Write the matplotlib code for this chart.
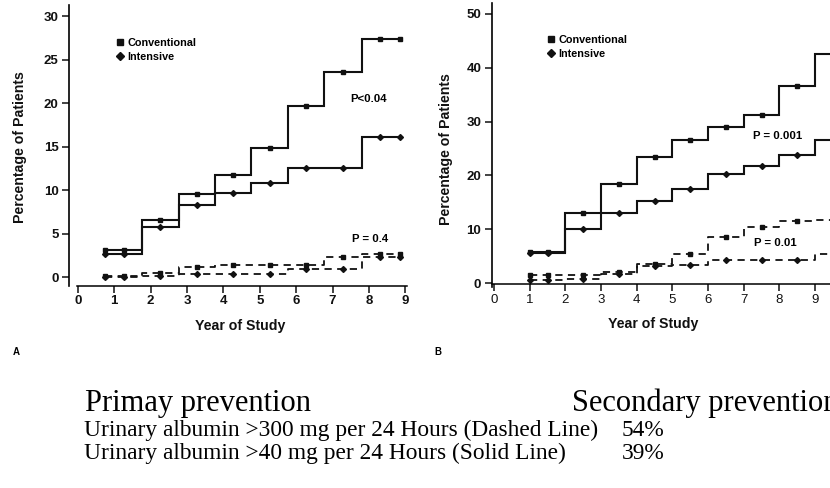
import numpy as np
import matplotlib
matplotlib.use("Agg")
import matplotlib.pyplot as plt
from matplotlib.lines import Line2D

plt.rcParams['font.family'] = ['Liberation Sans', 'DejaVu Sans']

# ---------------- Panel A (primary prevention) ----------------
a_edges = [0.75, 1.77, 2.77, 3.77, 4.77, 5.77, 6.77, 7.8, 8.85]
a_marks = [0.75, 1.27, 2.27, 3.27, 4.27, 5.27, 6.27, 7.29, 8.3, 8.85]
a_conv_solid = [3.1, 6.5, 9.5, 11.7, 14.8, 19.6, 23.6, 27.4]
a_int_solid = [2.6, 5.7, 8.3, 9.6, 10.8, 12.5, 12.5, 16.1]
a_conv_dash = [0.1, 0.5, 1.1, 1.4, 1.4, 1.4, 2.3, 2.6]
a_int_dash = [0.0, 0.1, 0.3, 0.4, 0.4, 0.9, 0.9, 2.3]
a_yticks = [0, 5, 10, 15, 20, 25, 30]

# ---------------- Panel B (secondary prevention) ----------------
b_edges = [1, 2, 3, 4, 5, 6, 7, 8, 9, 9.6]
b_marks = [1.0, 1.5, 2.5, 3.5, 4.5, 5.5, 6.5, 7.5, 8.5, 9.5]
b_conv_solid = [5.9, 13.0, 18.4, 23.5, 26.6, 28.9, 31.2, 36.5, 42.6]
b_int_solid = [5.6, 10.1, 13.0, 15.2, 17.5, 20.3, 21.7, 23.8, 26.6]
b_conv_dash = [1.5, 1.6, 2.2, 3.6, 5.5, 8.6, 10.4, 11.6, 11.7]
b_int_dash = [0.7, 0.9, 1.7, 3.3, 3.4, 4.3, 4.3, 4.3, 5.4]
b_yticks = [0, 10, 20, 30, 40, 50]

x_ticks = list(range(10))
legend_labels = ["Conventional", "Intensive"]

fig = plt.figure(figsize=(8.3, 4.88), dpi=100)
W, H = 830.0, 488.0
INK = '#111111'

def step_series(ax, edges, vals, marks, marker, ls, lw, ms):
    e = np.asarray(edges, float)
    v = np.asarray(vals, float)
    ax.step(e, np.append(v, v[-1]), where='post', color=INK, lw=lw,
            ls=ls, solid_joinstyle='miter')
    idx = np.clip(np.searchsorted(e, marks, side='right') - 1, 0, len(v) - 1)
    ax.plot(marks, v[idx], ls='none', marker=marker, ms=ms, color=INK, mec=INK)

def style_axes(ax, yticks):
    for s in ['top', 'right']:
        ax.spines[s].set_visible(False)
    ax.spines['left'].set_linewidth(1.2)
    ax.spines['bottom'].set_linewidth(1.1)
    ax.set_xticks(x_ticks)
    ax.set_yticks(yticks)
    ax.tick_params(axis='both', direction='out', length=5, width=1.1,
                   labelsize=9.5, colors=INK)
    ax.tick_params(axis='y', pad=2.5)
    ax.tick_params(axis='x', pad=2.0)
    for lab in ax.get_xticklabels() + ax.get_yticklabels():
        lab.set_fontweight('bold')
    ax.set_xlabel("Year of Study", fontsize=10.2, fontweight='bold', color=INK)
    ax.set_ylabel("Percentage of Patients", fontsize=10.2, fontweight='bold', color=INK)

# ---- Axes A
axA = fig.add_axes([69 / W, (H - 285.7) / H, (409 - 69) / W, (285.7 - 4.7) / H])
axA.set_xlim(-0.24, 9.1)
axA.set_ylim(-1.0, 31.3)
style_axes(axA, a_yticks)
axA.spines['bottom'].set_bounds(-0.03, 9.05)
step_series(axA, a_edges, a_conv_solid, a_marks, 's', '-', 1.5, 3.2)
step_series(axA, a_edges, a_int_solid, a_marks, 'D', '-', 1.5, 3.0)
step_series(axA, a_edges, a_conv_dash, a_marks, 's', (0, (4, 3)), 1.3, 3.0)
step_series(axA, a_edges, a_int_dash, a_marks, 'D', (0, (4, 3)), 1.3, 3.0)
axA.text(7.48, 20.46, "P<0.04", fontsize=8.2, fontweight='bold', va='center', ha='left')
axA.text(7.53, 4.37, "P = 0.4", fontsize=8.2, fontweight='bold', va='center', ha='left')
axA.xaxis.set_label_coords(0.503, -0.117)
axA.yaxis.set_label_coords(-0.124, 0.492)

# ---- Axes B (extends to the right edge, cropped)
axB = fig.add_axes([491.7 / W, (H - 286.7) / H, (830 - 491.7) / W, 283.4 / H])
axB.set_xlim(-0.065, 9.42)
axB.set_ylim(-0.6, 51.9)
style_axes(axB, b_yticks)
axB.spines['bottom'].set_position(('data', -0.15))
step_series(axB, b_edges, b_conv_solid, b_marks, 's', '-', 1.5, 3.2)
step_series(axB, b_edges, b_int_solid, b_marks, 'D', '-', 1.5, 3.0)
step_series(axB, b_edges, b_conv_dash, b_marks, 's', (0, (4, 3)), 1.3, 3.0)
step_series(axB, b_edges, b_int_dash, b_marks, 'D', (0, (4, 3)), 1.3, 3.0)
axB.text(7.26, 27.3, "P = 0.001", fontsize=8.2, fontweight='bold', va='center', ha='left')
axB.text(7.29, 7.53, "P = 0.01", fontsize=8.2, fontweight='bold', va='center', ha='left')
axB.xaxis.set_label_coords(0.477, -0.107)
axB.yaxis.set_label_coords(-0.113, 0.486)

# ---- legends
handles = [Line2D([], [], ls='none', marker='s', ms=4.5, color=INK),
           Line2D([], [], ls='none', marker='D', ms=4.5, color=INK)]
for ax, (lx, ly) in [(axA, (116, 38)), (axB, (547, 35))]:
    ax.legend(handles, legend_labels, loc='upper left',
              bbox_to_anchor=(lx / W, 1 - ly / H), bbox_transform=fig.transFigure,
              frameon=False, prop={'size': 7.8, 'weight': 'bold'},
              handlelength=0.7, handletextpad=0.35,
              labelspacing=0.35, borderpad=0, borderaxespad=0)

# ---- panel letters
fig.text(13 / W, 1 - 352 / H, "A", fontsize=7, fontweight='bold', va='center')
fig.text(434 / W, 1 - 352 / H, "B", fontsize=7, fontweight='bold', va='center')

# ---- bottom text block
serif = ['Liberation Serif', 'DejaVu Serif']
fig.text(85 / W, 1 - 411 / H, "Primay prevention", fontsize=22, family=serif,
         va='baseline', ha='left')
fig.text(572 / W, 1 - 411 / H, "Secondary prevention", fontsize=22, family=serif,
         va='baseline', ha='left')
rows = ["Urinary albumin >300 mg per 24 Hours (Dashed Line)",
        "Urinary albumin >40 mg per 24 Hours (Solid Line)"]
row_pct = ["54%", "39%"]
for i, (r, p) in enumerate(zip(rows, row_pct)):
    yb = 436 + i * 23.0
    fig.text(84 / W, 1 - yb / H, r, fontsize=16.8, family=serif,
             va='baseline', ha='left')
    fig.text(622 / W, 1 - yb / H, p, fontsize=16.8, family=serif,
             va='baseline', ha='left')

fig.savefig("out.png", dpi=100)
